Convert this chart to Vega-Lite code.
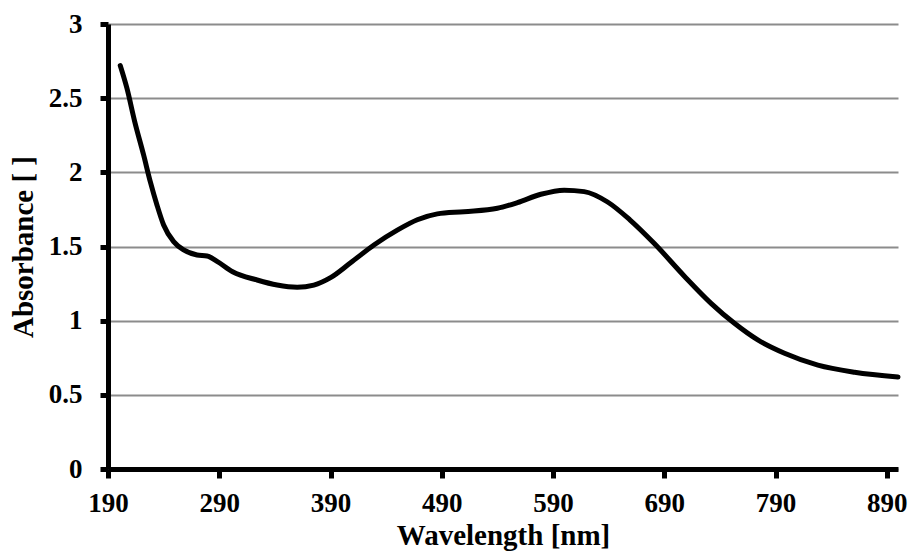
{
  "$schema": "https://vega.github.io/schema/vega-lite/v6.json",
  "width": 790,
  "height": 445,
  "autosize": {"type": "none"},
  "padding": {"left": 108, "top": 24, "right": 12, "bottom": 89},
  "background": "white",
  "config": {
    "view": {"stroke": null},
    "font": "Liberation Serif"
  },
  "data": {
    "values": [
      {"wl": 201, "abs": 2.72},
      {"wl": 207, "abs": 2.567},
      {"wl": 214, "abs": 2.342},
      {"wl": 222, "abs": 2.117},
      {"wl": 228, "abs": 1.937},
      {"wl": 234, "abs": 1.78},
      {"wl": 240, "abs": 1.645},
      {"wl": 249, "abs": 1.533},
      {"wl": 258, "abs": 1.477},
      {"wl": 270, "abs": 1.443},
      {"wl": 279, "abs": 1.436},
      {"wl": 288, "abs": 1.40},
      {"wl": 302, "abs": 1.33},
      {"wl": 324, "abs": 1.274},
      {"wl": 342, "abs": 1.24},
      {"wl": 360, "abs": 1.225},
      {"wl": 375, "abs": 1.24},
      {"wl": 390, "abs": 1.29},
      {"wl": 408, "abs": 1.39},
      {"wl": 429, "abs": 1.51},
      {"wl": 450, "abs": 1.61},
      {"wl": 468, "abs": 1.68},
      {"wl": 486, "abs": 1.72},
      {"wl": 510, "abs": 1.735},
      {"wl": 540, "abs": 1.758},
      {"wl": 558, "abs": 1.796},
      {"wl": 579, "abs": 1.852},
      {"wl": 600, "abs": 1.88},
      {"wl": 618, "abs": 1.87},
      {"wl": 639, "abs": 1.80},
      {"wl": 659, "abs": 1.68},
      {"wl": 681, "abs": 1.52},
      {"wl": 708, "abs": 1.30},
      {"wl": 732, "abs": 1.117},
      {"wl": 753, "abs": 0.982},
      {"wl": 774, "abs": 0.87},
      {"wl": 798, "abs": 0.78},
      {"wl": 828, "abs": 0.70},
      {"wl": 861, "abs": 0.652},
      {"wl": 900, "abs": 0.62}
    ]
  },
  "mark": {"type": "line", "color": "black", "strokeWidth": 5, "interpolate": "monotone", "strokeCap": "round"},
  "encoding": {
    "x": {
      "field": "wl",
      "type": "quantitative",
      "scale": {"domain": [190, 900], "nice": false, "zero": false},
      "axis": {
        "title": "Wavelength [nm]",
        "values": [190, 290, 390, 490, 590, 690, 790, 890],
        "grid": false,
        "domainColor": "black",
        "domainWidth": 5,
        "tickColor": "black",
        "tickWidth": 5,
        "tickSize": 9,
        "labelFont": "Liberation Serif",
        "labelFontWeight": "bold",
        "labelFontSize": 27,
        "labelColor": "black",
        "labelPadding": 12,
        "labelFlush": false,
        "titleFont": "Liberation Serif",
        "titleFontWeight": "bold",
        "titleFontSize": 29,
        "titleColor": "black",
        "titlePadding": 5
      }
    },
    "y": {
      "field": "abs",
      "type": "quantitative",
      "scale": {"domain": [0, 3], "nice": false},
      "axis": {
        "title": "Absorbance [ ]",
        "values": [0, 0.5, 1, 1.5, 2, 2.5, 3],
        "format": "~g",
        "grid": true,
        "gridColor": "#8c8c8c",
        "gridWidth": 2,
        "domainColor": "black",
        "domainWidth": 5,
        "tickColor": "black",
        "tickWidth": 5,
        "tickSize": 8,
        "labelFont": "Liberation Serif",
        "labelFontWeight": "bold",
        "labelFontSize": 27,
        "labelColor": "black",
        "labelPadding": 18,
        "labelFlush": false,
        "titleFont": "Liberation Serif",
        "titleFontWeight": "bold",
        "titleFontSize": 29,
        "titleColor": "black",
        "titlePadding": 10
      }
    }
  }
}
